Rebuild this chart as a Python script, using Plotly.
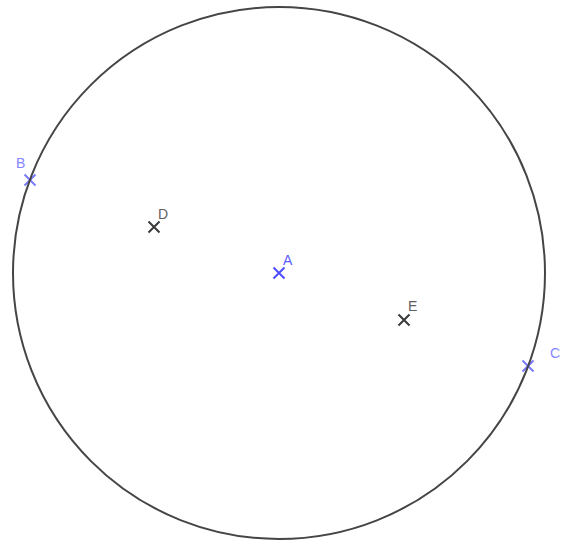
import plotly.graph_objects as go

# Point coordinates (units: 1 unit = 50 px in the reference)
names = ["A", "B", "C", "D", "E"]
xs = [0.0, -4.98, 4.98, -2.50, 2.50]
ys = [0.0, 1.86, -1.86, 0.92, -0.94]
radius = 5.32  # circle centred at A through B and C

marker_colors = ["#4d4dff", "#7a7aff", "#7a7aff", "#3a3a3a", "#3a3a3a"]
label_colors = ["#5a5aff", "#8585ff", "#8585ff", "#606060", "#606060"]
label_shift = [(9, 13), (-10, 17), (27, 13), (9, 13), (8, 14)]

fig = go.Figure()
fig.add_shape(type="circle", xref="x", yref="y",
              x0=xs[0] - radius, x1=xs[0] + radius,
              y0=ys[0] - radius, y1=ys[0] + radius,
              line=dict(color="#454545", width=2))

fig.add_trace(go.Scatter(
    x=xs, y=ys, mode="markers",
    marker=dict(symbol="x-thin", size=11,
                line=dict(width=2, color=marker_colors),
                color=marker_colors),
    hoverinfo="skip", showlegend=False))

for n, x, y, c, (dx, dy) in zip(names, xs, ys, label_colors, label_shift):
    fig.add_annotation(x=x, y=y, text=n, showarrow=False,
                       xshift=dx, yshift=dy,
                       font=dict(family="Liberation Sans, Arial, sans-serif", size=14, color=c))

fig.update_layout(
    width=564, height=540,
    margin=dict(l=0, r=0, t=0, b=0),
    paper_bgcolor="white", plot_bgcolor="white",
    xaxis=dict(range=[-5.58, 5.70], visible=False, showgrid=False, zeroline=False),
    yaxis=dict(range=[-5.34, 5.46], visible=False, showgrid=False, zeroline=False),
)

fig.write_html("out.html", config={"displayModeBar": False},
               post_script="document.body.style.margin='0';document.body.style.overflow='hidden';")
